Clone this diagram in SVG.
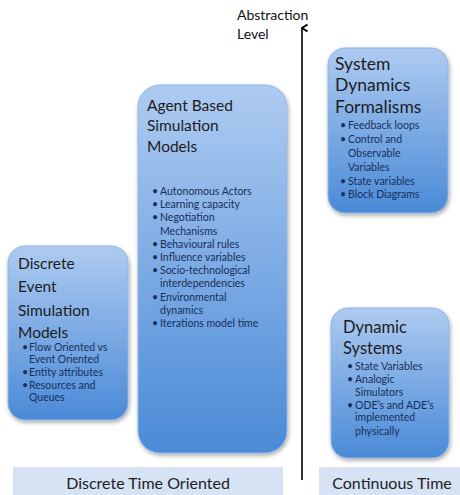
<svg xmlns="http://www.w3.org/2000/svg" width="460" height="495" viewBox="0 0 460 495">
<defs>
<linearGradient id="g" x1="0" y1="0" x2="0" y2="1">
<stop offset="0" stop-color="#aecbf1"/>
<stop offset="1" stop-color="#4a8ad7"/>
</linearGradient>
<filter id="sh" x="-10%" y="-10%" width="130%" height="130%">
<feDropShadow dx="1" dy="2" stdDeviation="2" flood-color="#000" flood-opacity="0.35"/>
</filter>
<marker id="ah" viewBox="0 0 10 10" refX="5" refY="1.5" markerWidth="10" markerHeight="10" orient="auto-start-reverse" markerUnits="userSpaceOnUse">
<path d="M1.5,7 L5,1.5 L8.5,7" fill="none" stroke="#000" stroke-width="2"/>
</marker>
<style>
.box{fill:url(#g);stroke:#8fb4e6;stroke-width:1;filter:url(#sh)}
.t{font-family:Lato,"Liberation Sans",sans-serif;font-size:15.5px;fill:#1c1c1c}
.b{font-family:Lato,"Liberation Sans",sans-serif;font-size:10.5px;fill:#17305a}
.lab{font-family:Lato,"Liberation Sans",sans-serif;font-size:16px;fill:#222}
.ax{font-family:Lato,"Liberation Sans",sans-serif;font-size:14px;fill:#111}
.band{fill:#d6e3f4}
</style>
</defs>
<rect width="460" height="495" fill="#fff"/>

<g id="bands">
<rect class="band" x="13" y="467" width="270" height="28"/>
<rect class="band" x="319" y="467" width="141" height="28"/>
<text class="lab" x="148" y="489" text-anchor="middle">Discrete Time Oriented</text>
<text class="lab" x="392" y="489" text-anchor="middle">Continuous Time</text>
</g>

<g id="connectors">
<line x1="302" y1="480" x2="302" y2="28" stroke="#000" stroke-width="1.6" marker-end="url(#ah)"/>
<text class="ax" x="237" y="20">Abstraction</text>
<text class="ax" x="237" y="39">Level</text>
</g>

<g id="discrete">
<rect class="box" x="8" y="246" width="120" height="174" rx="17"/>
<text class="t" x="18" y="269">Discrete</text>
<text class="t" x="18" y="292">Event</text>
<text class="t" x="18" y="316">Simulation</text>
<text class="t" x="18" y="338">Models</text>
<text class="b" x="22" y="351">•</text><text class="b" x="29" y="351">Flow Oriented vs</text>
<text class="b" x="29" y="363">Event Oriented</text>
<text class="b" x="22" y="376">•</text><text class="b" x="29" y="376">Entity attributes</text>
<text class="b" x="22" y="389">•</text><text class="b" x="29" y="389">Resources and</text>
<text class="b" x="29" y="401">Queues</text>
</g>

<g id="agent">
<rect class="box" x="138" y="85" width="149" height="368" rx="22"/>
<text class="t" x="147" y="111">Agent Based</text>
<text class="t" x="147" y="131">Simulation</text>
<text class="t" x="147" y="152">Models</text>
<text class="b" x="152" y="195">•</text><text class="b" x="160" y="195">Autonomous Actors</text>
<text class="b" x="152" y="208">•</text><text class="b" x="160" y="208">Learning capacity</text>
<text class="b" x="152" y="221">•</text><text class="b" x="160" y="221">Negotiation</text>
<text class="b" x="160" y="235">Mechanisms</text>
<text class="b" x="152" y="248">•</text><text class="b" x="160" y="248">Behavioural rules</text>
<text class="b" x="152" y="261">•</text><text class="b" x="160" y="261">Influence variables</text>
<text class="b" x="152" y="274">•</text><text class="b" x="160" y="274">Socio-technological</text>
<text class="b" x="160" y="287">interdependencies</text>
<text class="b" x="152" y="301">•</text><text class="b" x="160" y="301">Environmental</text>
<text class="b" x="160" y="314">dynamics</text>
<text class="b" x="152" y="327">•</text><text class="b" x="160" y="327">Iterations model time</text>
</g>

<g id="sysdyn">
<rect class="box" x="328" y="48" width="120" height="165" rx="17"/>
<text class="t" x="335" y="70" style="font-size:17.5px">System</text>
<text class="t" x="335" y="91" style="font-size:17.5px">Dynamics</text>
<text class="t" x="335" y="113" style="font-size:17.5px">Formalisms</text>
<text class="b" x="340" y="129">•</text><text class="b" x="348" y="129">Feedback loops</text>
<text class="b" x="340" y="143">•</text><text class="b" x="348" y="143">Control and</text>
<text class="b" x="348" y="157">Observable</text>
<text class="b" x="348" y="171">Variables</text>
<text class="b" x="340" y="185">•</text><text class="b" x="348" y="185">State variables</text>
<text class="b" x="340" y="198">•</text><text class="b" x="348" y="198">Block Diagrams</text>
</g>

<g id="dynsys">
<rect class="box" x="331" y="308" width="118" height="150" rx="17"/>
<text class="t" x="343" y="333" style="font-size:16.5px">Dynamic</text>
<text class="t" x="343" y="354" style="font-size:16.5px">Systems</text>
<text class="b" x="347" y="370">•</text><text class="b" x="355" y="370">State Variables</text>
<text class="b" x="347" y="383">•</text><text class="b" x="355" y="383">Analogic</text>
<text class="b" x="355" y="396">Simulators</text>
<text class="b" x="347" y="409">•</text><text class="b" x="355" y="409">ODE’s and ADE’s</text>
<text class="b" x="355" y="421">implemented</text>
<text class="b" x="355" y="435">physically</text>
</g>
</svg>
